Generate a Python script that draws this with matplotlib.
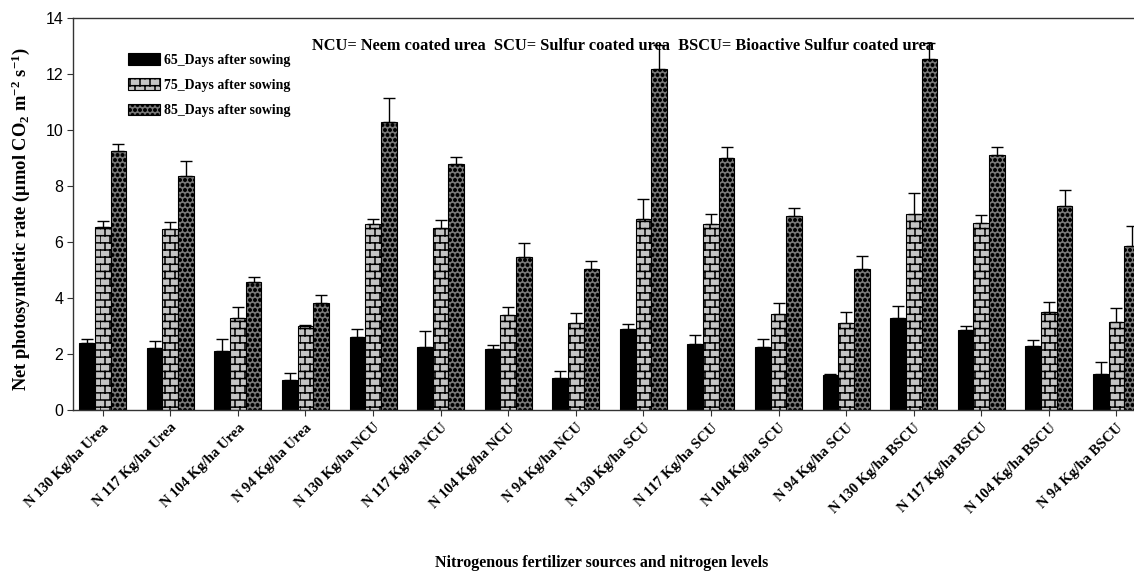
import warnings
import numpy as np
import matplotlib
matplotlib.use("Agg")
import matplotlib.pyplot as plt
import matplotlib.hatch as mhatch
from matplotlib.path import Path

# treatments on the x axis
labels = ["N 130 Kg/ha Urea", "N 117 Kg/ha Urea", "N 104 Kg/ha Urea", "N 94 Kg/ha Urea",
          "N 130 Kg/ha NCU", "N 117 Kg/ha NCU", "N 104 Kg/ha NCU", "N 94 Kg/ha NCU",
          "N 130 Kg/ha SCU", "N 117 Kg/ha SCU", "N 104 Kg/ha SCU", "N 94 Kg/ha SCU",
          "N 130 Kg/ha BSCU", "N 117 Kg/ha BSCU", "N 104 Kg/ha BSCU", "N 94 Kg/ha BSCU"]

# net photosynthetic rate and standard errors
das65 = [2.38, 2.23, 2.10, 1.07, 2.62, 2.26, 2.19, 1.15, 2.90, 2.35, 2.26, 1.25, 3.27, 2.86, 2.29, 1.29]
err65 = [0.16, 0.25, 0.45, 0.25, 0.26, 0.57, 0.14, 0.24, 0.17, 0.34, 0.26, 0.03, 0.44, 0.14, 0.21, 0.44]
das75 = [6.55, 6.45, 3.27, 3.00, 6.64, 6.51, 3.40, 3.10, 6.81, 6.64, 3.43, 3.12, 6.99, 6.69, 3.51, 3.15]
err75 = [0.19, 0.25, 0.40, 0.05, 0.17, 0.26, 0.27, 0.35, 0.71, 0.36, 0.38, 0.39, 0.75, 0.27, 0.36, 0.48]
das85 = [9.25, 8.34, 4.58, 3.83, 10.27, 8.77, 5.48, 5.05, 12.17, 9.01, 6.93, 5.03, 12.52, 9.10, 7.29, 5.86]
err85 = [0.26, 0.56, 0.18, 0.29, 0.88, 0.28, 0.47, 0.28, 0.88, 0.38, 0.27, 0.47, 0.58, 0.28, 0.57, 0.71]

series_names = ["65_Days after sowing", "75_Days after sowing", "85_Days after sowing"]


# brick fill pattern ('b')
class BrickHatch(mhatch.HatchPatternBase):
    def __init__(self, hatch, density):
        n = hatch.count('b')
        self.num_rows = 14 * n
        self.num_cols = 10
        self.num_vertices = (2 * (self.num_rows + 1) + 2 * self.num_rows * self.num_cols) if n else 0

    def set_vertices_and_codes(self, vertices, codes):
        verts = []
        for r in range(self.num_rows + 1):
            y = r / self.num_rows
            verts += [(0, y), (1, y)]
        for r in range(self.num_rows):
            y0, y1 = r / self.num_rows, (r + 1) / self.num_rows
            shift = 0.5 / self.num_cols if r % 2 else 0.0
            for c in range(self.num_cols):
                x = c / self.num_cols + shift
                verts += [(x, y0), (x, y1)]
        vertices[:] = verts
        codes[0::2] = Path.MOVETO
        codes[1::2] = Path.LINETO


# dense filled dots ('d')
class DotHatch(mhatch.Circles):
    size = 0.24
    filled = True

    def __init__(self, hatch, density):
        self.num_rows = hatch.count('d') * 20
        super().__init__(hatch, density)


mhatch._hatch_types.extend([BrickHatch, DotHatch])
warnings.filterwarnings("ignore", message="hatch must consist")

plt.rcParams['hatch.linewidth'] = 1.1
plt.rcParams['mathtext.default'] = 'regular'

serif = "Liberation Serif"
sans = "Liberation Sans"

fig = plt.figure(figsize=(11.34, 5.73), dpi=100)
ax = fig.add_axes([73 / 1134, 1 - 410 / 573, 1084 / 1134, 392 / 573])

x = np.arange(len(labels))
w = 0.232
styles = [dict(color="black", hatch=None),
          dict(color="#c4c4c4", hatch="b"),
          dict(color="#777777", hatch="d")]
values = [das65, das75, das85]
errors = [err65, err75, err85]

for i in range(3):
    st = styles[i]
    ax.bar(x + (i - 1) * w, values[i], w, facecolor=st["color"], edgecolor="black",
           linewidth=0.8, hatch=st["hatch"], label=series_names[i], zorder=2)
    ax.errorbar(x + (i - 1) * w, values[i], yerr=[np.zeros(len(x)), errors[i]],
                fmt="none", ecolor="black", elinewidth=1.0, capsize=4.5, capthick=1.0, zorder=3)

ax.set_xlim(-0.44, 15.6)
ax.set_ylim(0, 14)
ax.set_yticks(range(0, 15, 2))
ax.set_xticks(x)
ax.set_xticklabels(labels, rotation=45, ha="right", va="top", rotation_mode="anchor",
                   fontfamily=serif, fontweight="bold", fontsize=10.5)
for t in ax.get_yticklabels():
    t.set_fontfamily(sans)
    t.set_fontsize(11.5)
ax.tick_params(axis="both", direction="out", length=4, width=0.8, color="#333333")
ax.tick_params(axis="x", pad=4)
ax.tick_params(axis="y", pad=3)
for s in ax.spines.values():
    s.set_linewidth(1.0)
    s.set_color("#333333")

leg = ax.legend(loc="upper left", bbox_to_anchor=(128 / 1134, 1 - 53 / 573),
                bbox_transform=fig.transFigure, frameon=False, borderpad=0,
                borderaxespad=0, handlelength=2.3, handleheight=0.9,
                handletextpad=0.3, labelspacing=0.85,
                prop=dict(family=serif, weight="bold", size=10))

fig.text(623 / 1134, 1 - 46 / 573,
         "NCU= Neem coated urea  SCU= Sulfur coated urea  BSCU= Bioactive Sulfur coated urea",
         ha="center", va="center", family=serif, weight="bold", fontsize=11.8)
fig.text(21 / 1134, 1 - 219 / 573,
         "Net photosynthetic rate (µmol CO$_2$ m$^{-2}$ s$^{-1}$)",
         rotation=90, ha="center", va="center", family=serif, weight="bold", fontsize=13.3)
fig.text(602 / 1134, 1 - 563 / 573, "Nitrogenous fertilizer sources and nitrogen levels",
         ha="center", va="center", family=serif, weight="bold", fontsize=11.5)

fig.savefig("out.png", dpi=100)
